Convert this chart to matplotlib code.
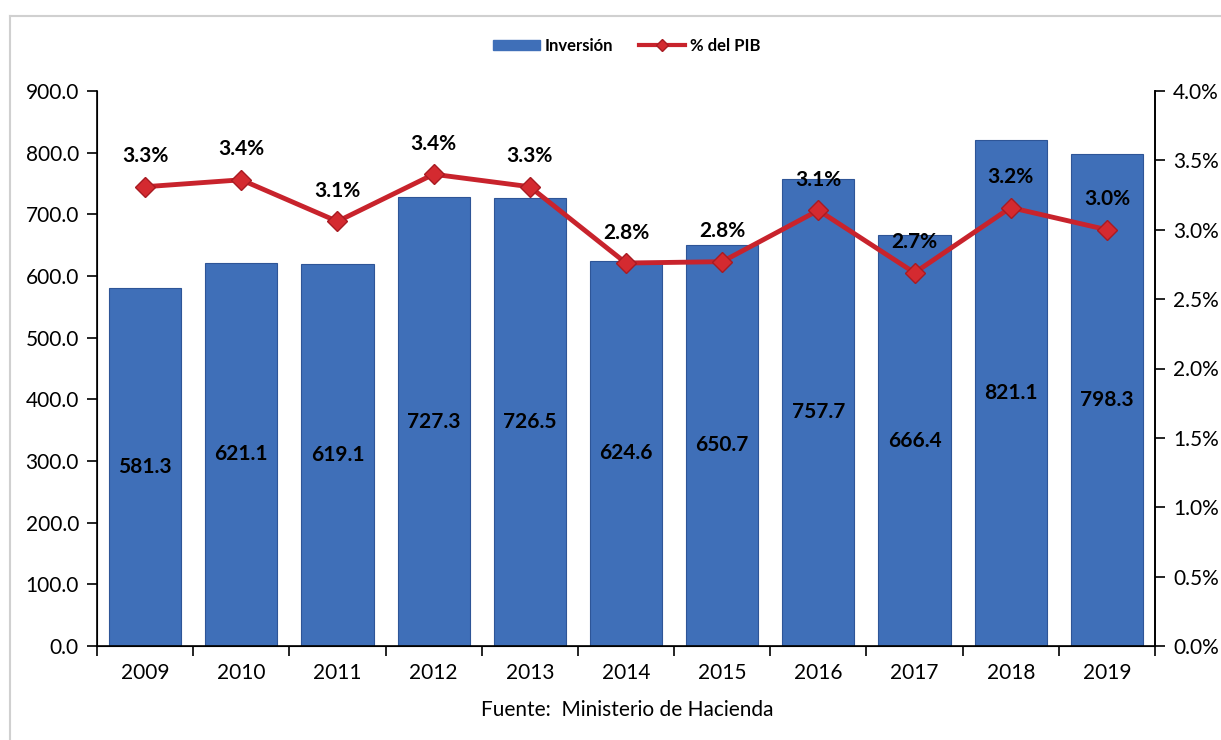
import matplotlib
matplotlib.use("Agg")
import matplotlib.pyplot as plt
from matplotlib.lines import Line2D
from matplotlib.ticker import FixedLocator, FuncFormatter
import numpy as np

years = ["2009", "2010", "2011", "2012", "2013", "2014", "2015", "2016", "2017", "2018", "2019"]
inversion = [581.3, 621.1, 619.1, 727.3, 726.5, 624.6, 650.7, 757.7, 666.4, 821.1, 798.3]
pct_pib = [3.31, 3.36, 3.06, 3.40, 3.31, 2.76, 2.77, 3.14, 2.69, 3.16, 3.00]
left_ticks = [0, 100, 200, 300, 400, 500, 600, 700, 800, 900]
right_ticks = [0, 0.5, 1.0, 1.5, 2.0, 2.5, 3.0, 3.5, 4.0]

plt.rcParams['font.family'] = ['Lato', 'DejaVu Sans']

W, H = 1221, 740
fig = plt.figure(figsize=(W / 100, H / 100), dpi=100)
ax = fig.add_axes([97 / W, 1 - 646 / H, (1155 - 97) / W, (646 - 91) / H])
ax2 = ax.twinx()

x = np.arange(len(years))
bar_color = '#3F6FB8'
line_color = '#C8232C'

bars = ax.bar(x, inversion, width=0.75, color=bar_color, edgecolor='#2E5597', linewidth=0.8, zorder=2)
for xi, v in zip(x, inversion):
    ax.text(xi, v / 2, f"{v:.1f}", ha='center', va='center', fontsize=15, fontweight='bold', color='black', zorder=5)

ax.set_xlim(-0.5, len(years) - 0.5)
ax.set_ylim(0, 900)
ax.set_yticks(left_ticks)
ax.yaxis.set_major_formatter(FuncFormatter(lambda v, p: f"{v:.1f}"))
ax.set_xticks(x)
ax.set_xticklabels(years)
ax.xaxis.set_minor_locator(FixedLocator(np.arange(-0.5, len(years), 1.0)))
ax.tick_params(axis='x', which='major', length=0, pad=12, labelsize=15)
ax.tick_params(axis='x', which='minor', length=7, width=1.2, direction='out')
ax.tick_params(axis='y', length=7, width=1.2, direction='out', labelsize=15, pad=6)
for s in ['top']:
    ax.spines[s].set_visible(False)
for s in ['left', 'bottom', 'right']:
    ax.spines[s].set_linewidth(1.2)

ax2.plot(x, pct_pib, color=line_color, linewidth=3.5, marker='D', markersize=10,
         markerfacecolor='#D42A30', markeredgecolor='#A81B22', zorder=4)
for xi, v in zip(x, pct_pib):
    ax2.text(xi, v + 0.22, f"{v:.1f}%", ha='center', va='center', fontsize=15, fontweight='bold', color='black')
ax2.set_ylim(0, 4.0)
ax2.set_yticks(right_ticks)
ax2.yaxis.set_major_formatter(FuncFormatter(lambda v, p: f"{v:.1f}%"))
ax2.tick_params(axis='y', length=7, width=1.2, direction='out', labelsize=15, pad=6)
ax2.spines['top'].set_visible(False)
ax2.spines['right'].set_linewidth(1.2)

handles = [plt.Rectangle((0, 0), 1, 1, color=bar_color),
           Line2D([0], [0], color=line_color, linewidth=3, marker='D', markersize=6,
                  markerfacecolor='#D42A30', markeredgecolor='#A81B22')]
fig.legend(handles, ["Inversión", "% del PIB"], loc='center', bbox_to_anchor=(627 / W, 1 - 46 / H),
           ncol=2, frameon=False, prop={'weight': 'bold', 'size': 12}, handlelength=2.8,
           handletextpad=0.3, columnspacing=1.5, handleheight=0.6)

fig.text(627 / W, 1 - 710 / H, "Fuente:  Ministerio de Hacienda", ha='center', va='center', fontsize=15)

fig.add_artist(Line2D([10 / W, 1], [1 - 16 / H, 1 - 16 / H], color='#D0D0D0', linewidth=1.5, transform=fig.transFigure))
fig.add_artist(Line2D([10 / W, 10 / W], [0, 1 - 16 / H], color='#D0D0D0', linewidth=1.5, transform=fig.transFigure))

fig.savefig("out.png", dpi=100)
